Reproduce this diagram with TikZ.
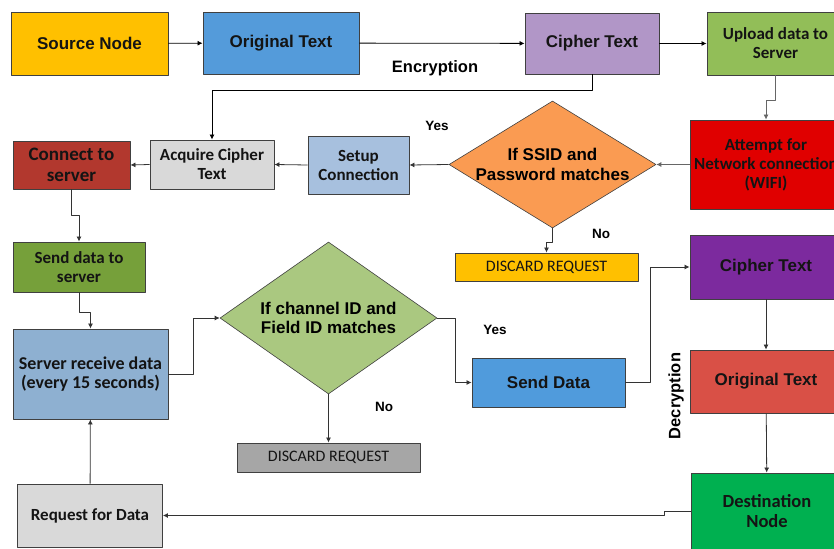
\documentclass[tikz,border=0pt]{standalone}
\usepackage{fontspec}
\setmainfont{Liberation Sans}
\newfontfamily\calfont{Carlito}
\usetikzlibrary{shapes.geometric, arrows.meta}

\tikzset{
  box/.style={draw={rgb,255:red,64;green,64;blue,64}, line width=0.9pt, inner sep=0pt, align=center, text={rgb,255:red,20;green,20;blue,20}},
  decision/.style={diamond, draw={rgb,255:red,64;green,64;blue,64}, line width=0.6pt, inner sep=0pt},
  arialtxt/.style={font=\fontsize{17}{19.5}\selectfont\bfseries},
  caltxt/.style={font=\fontsize{17}{19}\selectfont\calfont\bfseries},
  plaintxt/.style={font=\fontsize{16}{18}\selectfont\calfont},
  lbl/.style={font=\fontsize{13.5}{15}\selectfont\bfseries, inner sep=0pt},
  link/.style={line width=0.8pt, color=black!80, -{Latex[length=5pt,width=5pt]}}
}

\begin{document}
\begin{tikzpicture}[x=1pt, y=-1pt, line join=round]
\useasboundingbox (0,0) rectangle (834,548);
\clip (0,0) rectangle (834,548);

% encryption side, top row
\node[box, arialtxt, fill={rgb,255:red,255;green,192;blue,0}, minimum width=157pt, minimum height=63pt] (src) at (89.5,43.5) {Source Node};
\node[box, arialtxt, fill={rgb,255:red,84;green,155;blue,218}, minimum width=156pt, minimum height=62pt] (orig1) at (281,43) {Original Text};
\node[box, arialtxt, fill={rgb,255:red,177;green,150;blue,199}, minimum width=134pt, minimum height=61pt] (ciph1) at (592,43.5) {Cipher Text};
\node[box, caltxt, fill={rgb,255:red,146;green,190;blue,88}, minimum width=137pt, minimum height=63pt] (upl) at (775.5,43.5) {Upload data to\\Server};

% wifi check
\node[box, caltxt, fill={rgb,255:red,224;green,0;blue,0}, minimum width=152pt, minimum height=89pt] (att) at (766,164.5) {Attempt for\\Network connection\\(WIFI)};
\node[decision, fill={rgb,255:red,250;green,155;blue,82}, minimum width=207pt, minimum height=127pt,
      label={[arialtxt, align=center]center:{If SSID and\\Password matches}}] (ssid) at (552.5,164.5) {};
\node[box, plaintxt, fill={rgb,255:red,255;green,192;blue,0}, minimum width=183pt, minimum height=28pt] (disc1) at (546.5,267) {DISCARD REQUEST};
\node[box, caltxt, fill={rgb,255:red,167;green,192;blue,222}, minimum width=101pt, minimum height=58pt] (setup) at (358.5,165) {Setup\\Connection};
\node[box, caltxt, fill={rgb,255:red,217;green,217;blue,217}, minimum width=124pt, minimum height=49pt] (acq) at (212,164.5) {Acquire Cipher\\Text};
\node[box, caltxt, fill={rgb,255:red,178;green,56;blue,46}, minimum width=117pt, minimum height=48pt, font=\fontsize{19}{21}\selectfont\calfont\bfseries] (conn) at (71.5,165) {Connect to\\server};

% server side
\node[box, caltxt, fill={rgb,255:red,118;green,160;blue,58}, minimum width=132pt, minimum height=50pt] (send1) at (79,267) {Send data to\\server};
\node[box, caltxt, fill={rgb,255:red,142;green,176;blue,209}, minimum width=155pt, minimum height=90pt, font=\fontsize{18}{19.5}\selectfont\calfont\bfseries] (recv) at (90.5,374) {Server receive data\\(every 15 seconds)};
\node[decision, fill={rgb,255:red,170;green,200;blue,128}, minimum width=217pt, minimum height=152pt,
      label={[arialtxt, align=center]center:{If channel ID and\\Field ID matches}}] (chan) at (328.5,318) {};
\node[box, plaintxt, fill={rgb,255:red,166;green,166;blue,166}, minimum width=183pt, minimum height=29pt] (disc2) at (328.5,457.5) {DISCARD REQUEST};
\node[box, arialtxt, fill={rgb,255:red,80;green,155;blue,220}, minimum width=153pt, minimum height=49pt] (sdata) at (548.5,382.5) {Send Data};
\node[box, caltxt, fill={rgb,255:red,217;green,217;blue,217}, minimum width=145pt, minimum height=63pt] (req) at (90,515.5) {Request for Data};

% decryption side
\node[box, arialtxt, fill={rgb,255:red,124;green,42;blue,158}, minimum width=152pt, minimum height=64pt] (ciph2) at (766,267) {Cipher Text};
\node[box, arialtxt, fill={rgb,255:red,217;green,80;blue,70}, minimum width=152pt, minimum height=63pt] (orig2) at (766,381.5) {Original Text};
\node[box, caltxt, fill={rgb,255:red,0;green,176;blue,80}, minimum width=152pt, minimum height=76pt, font=\fontsize{18.5}{20}\selectfont\calfont\bfseries] (dest) at (767,511) {Destination\\Node};

% labels
\node[lbl, font=\fontsize{16.5}{18}\selectfont\bfseries] (enc) at (435,68) {Encryption};
\node[lbl, rotate=90, font=\fontsize{16.5}{18}\selectfont\bfseries] (dec) at (676,396) {Decryption};
\node[lbl] (yes1) at (437,126) {Yes};
\node[lbl] (no1) at (601,234) {No};
\node[lbl] (yes2) at (495,330) {Yes};
\node[lbl] (no2) at (384,407) {No};

% connectors
\draw[link, color=black] (src) -- (orig1);
\draw[link, color=black] (orig1) -- (ciph1);
\draw[link, color=black] (ciph1) -- (upl);
\draw[link, color=black] (ciph1.south) -- ++(0,16) -| (acq.north);
\draw[link, color=black!60] (upl.south) -- ++(0,25) -| (att.north);
\draw[link, color=black!60] (att.west) -- (ssid.east);
\draw[link] (ssid.west) -- (setup.east);
\draw[link] (setup.west) -- (acq.east);
\draw[link] (acq.west) -- (conn.east);
\draw[link] (ssid.south) -- ++(0,14) -| (disc1.north);
\draw[link] (conn.south) -- ++(0,26) -| (send1.north);
\draw[link] (send1.south) -- ++(0,20) -| (recv.north);
\draw[link] (recv.east) -- ++(25,0) |- (chan.west);
\draw[link] (chan.east) -- ++(18,0) |- (sdata.west);
\draw[link] (chan.south) -- (disc2.north);
\draw[link] (sdata.east) -- ++(25,0) |- (ciph2.west);
\draw[link] (ciph2) -- (orig2);
\draw[link] (orig2) -- (dest);
\draw[link] (dest.west) -- ++(-26,0) |- (req.east);
\draw[link] (req) -- (recv);

\end{tikzpicture}
\end{document}
